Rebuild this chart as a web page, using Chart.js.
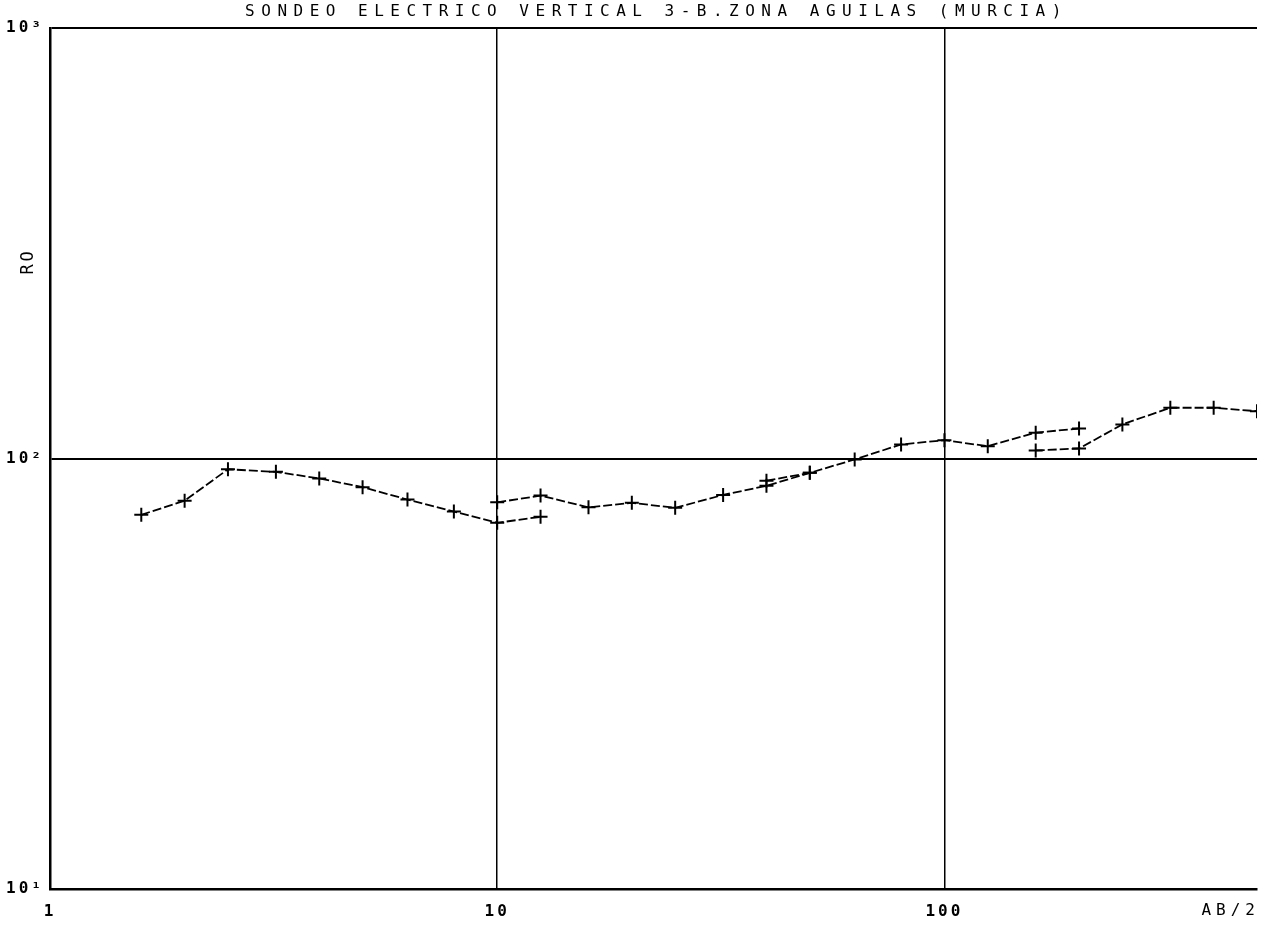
<!DOCTYPE html>
<html>
<head>
<meta charset="utf-8">
<script src="https://cdn.jsdelivr.net/npm/chart.js@4/dist/chart.umd.min.js"></script>
<style>
  body { margin: 0; background: #fff; }
  #wrap { width: 1272px; height: 925px; position: relative; }
</style>
</head>
<body>
<div id="wrap"><canvas id="ves"></canvas></div>
<script>
// AB/2 (m) and apparent resistivity for each overlapping segment
const abSeg1 = [1.6, 2, 2.5, 3.2, 4, 5, 6.3, 8, 10, 12.5];
const roSeg1 = [74.0, 79.8, 94.4, 93.1, 89.9, 85.8, 80.3, 75.3, 70.9, 73.2];
const abSeg2 = [10, 12.5, 16, 20, 25, 32, 40, 50];
const roSeg2 = [79.1, 82.0, 77.0, 78.9, 76.8, 82.3, 86.4, 92.6];
const abSeg3 = [40, 50, 63, 80, 100, 125, 160, 200];
const roSeg3 = [88.8, 92.6, 99.5, 107.8, 110.3, 106.8, 114.8, 117.4];
const abSeg4 = [160, 200, 250, 320, 400, 500];
const roSeg4 = [104.4, 105.5, 120.0, 131.2, 131.2, 128.8];

const xTickValues = [1, 10, 100];
const xTickLabels = ['1', '10', '100'];
const yTickValues = [10, 100, 1000];
const yTickLabels = ['10\u00b9', '10\u00b2', '10\u00b3'];

const titleText = 'SONDEO ELECTRICO VERTICAL 3-B.ZONA AGUILAS (MURCIA)';
const mono = "'DejaVu Sans Mono', monospace";

function pts(xs, ys) {
    return xs.map(function(x, i) { return { x: x, y: ys[i] }; });
}

function seg(xs, ys) {
    return {
        data: pts(xs, ys),
        showLine: true,
        borderColor: '#000',
        borderWidth: 1.8,
        borderDash: [9, 3],
        pointStyle: 'cross',
        pointRadius: 7,
        pointBorderWidth: 2,
        pointBorderColor: '#000',
        tension: 0
    };
}

// titles drawn by hand so the wide plotter spacing can be kept
const plotterText = {
    id: 'plotterText',
    beforeDraw: function(chart) {
        chart.ctx.letterSpacing = '3px';
    },
    afterDraw: function(chart) {
        const ctx = chart.ctx;
        const area = chart.chartArea;
        const y = chart.scales.y;
        ctx.save();
        ctx.fillStyle = '#000';
        ctx.textBaseline = 'middle';

        ctx.font = '16px ' + mono;
        ctx.letterSpacing = '6.5px';
        ctx.textAlign = 'center';
        ctx.fillText(titleText, (area.left + area.right) / 2 + 3, 12);

        ctx.font = '16px ' + mono;
        ctx.letterSpacing = '5px';
        ctx.textAlign = 'right';
        ctx.fillText('AB/2', area.right + 3, 911);

        ctx.translate(29, y.getPixelForValue(287));
        ctx.rotate(-Math.PI / 2);
        ctx.textAlign = 'center';
        ctx.font = '17px ' + mono;
        ctx.letterSpacing = '3px';
        ctx.fillText('RO', 0, 0);
        ctx.restore();
    }
};

new Chart(document.getElementById('ves'), {
    type: 'scatter',
    data: {
        datasets: [
            seg(abSeg1, roSeg1),
            seg(abSeg2, roSeg2),
            seg(abSeg3, roSeg3),
            seg(abSeg4, roSeg4)
        ]
    },
    options: {
        responsive: true,
        maintainAspectRatio: false,
        animation: false,
        layout: { padding: { top: 28, right: 15, bottom: 0, left: 0 } },
        plugins: {
            legend: { display: false },
            tooltip: { enabled: false }
        },
        scales: {
            x: {
                type: 'logarithmic',
                min: 1,
                max: 500,
                afterBuildTicks: function(scale) {
                    scale.ticks = xTickValues.map(function(v) { return { value: v }; });
                },
                afterFit: function(scale) { scale.height = 36; },
                grid: { color: '#000', lineWidth: 1.5, drawTicks: false },
                border: { display: true, color: '#000', width: 2.5 },
                ticks: {
                    color: '#000',
                    padding: 13,
                    maxRotation: 0,
                    autoSkip: false,
                    font: { family: mono, size: 16, weight: 'bold' },
                    callback: function(v) {
                        const i = xTickValues.indexOf(v);
                        return i >= 0 ? xTickLabels[i] : '';
                    }
                }
            },
            y: {
                type: 'logarithmic',
                min: 10,
                max: 1000,
                afterBuildTicks: function(scale) {
                    scale.ticks = yTickValues.map(function(v) { return { value: v }; });
                },
                afterFit: function(scale) { scale.width = 50; },
                grid: { color: '#000', lineWidth: 2, drawTicks: false },
                border: { display: true, color: '#000', width: 2.5 },
                ticks: {
                    color: '#000',
                    padding: 6,
                    autoSkip: false,
                    font: { family: mono, size: 16, weight: 'bold' },
                    callback: function(v) {
                        const i = yTickValues.indexOf(v);
                        return i >= 0 ? yTickLabels[i] : '';
                    }
                }
            }
        }
    },
    plugins: [plotterText]
});
</script>
</body>
</html>
